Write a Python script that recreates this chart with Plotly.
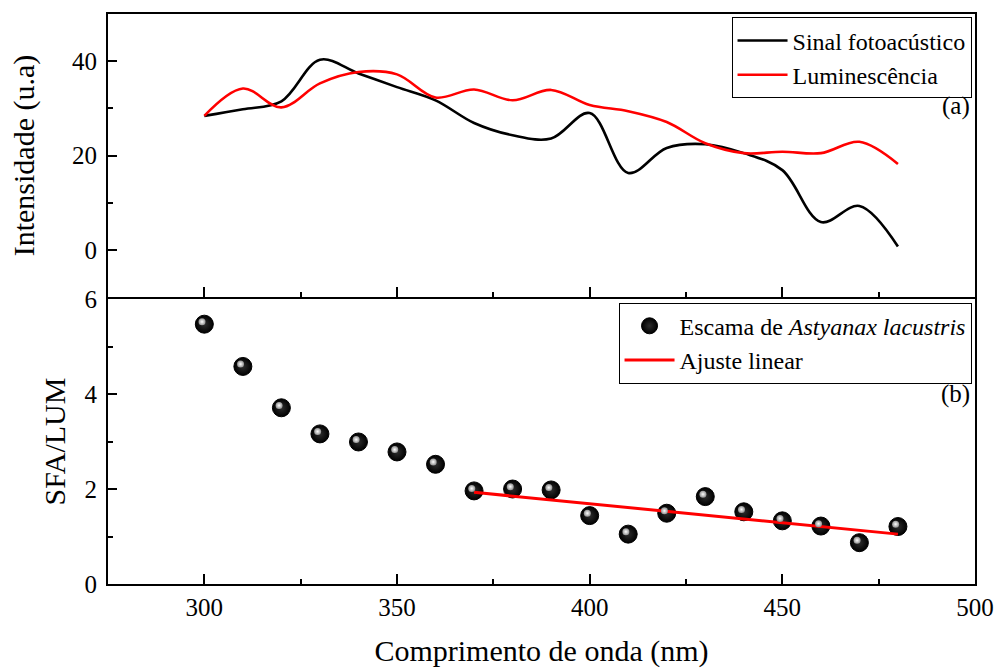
import plotly.graph_objects as go

# ---- data ----
wavelength = [300, 310, 320, 330, 340, 350, 360, 370, 380, 390,
              400, 410, 420, 430, 440, 450, 460, 470, 480]
sinal_fotoacustico = [28.4, 29.8, 31.5, 40.3, 37.4, 34.5, 31.7, 26.9, 24.3, 23.6,
                      29.0, 16.3, 21.6, 22.4, 20.5, 16.9, 5.9, 9.3, 0.7]
luminescencia = [28.4, 34.2, 30.2, 35.3, 37.7, 37.2, 32.3, 34.0, 31.7, 33.9,
                 30.7, 29.4, 27.1, 22.6, 20.5, 20.8, 20.5, 22.9, 18.2]
sfa_lum = [5.47, 4.58, 3.71, 3.16, 2.99, 2.78, 2.52, 1.96, 2.00, 1.98,
           1.44, 1.05, 1.49, 1.84, 1.52, 1.33, 1.22, 0.87, 1.21]
fit_x = [370, 480]
fit_y = [1.93, 1.05]

x_ticks = [300, 350, 400, 450, 500]
top_y_ticks = [0, 20, 40]
bottom_y_ticks = [0, 2, 4, 6]

FONT = "Liberation Serif, Times New Roman, serif"

fig = go.Figure()

fig.add_trace(go.Scatter(x=wavelength, y=sinal_fotoacustico, mode="lines",
                         line=dict(color="black", width=2.6, shape="spline", smoothing=1),
                         name="Sinal fotoacústico", xaxis="x", yaxis="y", legend="legend"))
fig.add_trace(go.Scatter(x=wavelength, y=luminescencia, mode="lines",
                         line=dict(color="#ff0000", width=2.6, shape="spline", smoothing=1),
                         name="Luminescência", xaxis="x", yaxis="y", legend="legend"))

fig.add_trace(go.Scatter(x=wavelength, y=sfa_lum, mode="markers",
                         marker=dict(color="black", size=18, symbol="circle",
                                     gradient=dict(type="radial", color="#2e2e2e"),
                                     line=dict(color="black", width=1)),
                         name="Escama de <i>Astyanax lacustris</i>",
                         xaxis="x2", yaxis="y2", legend="legend2"))
fig.add_trace(go.Scatter(x=fit_x, y=fit_y, mode="lines",
                         line=dict(color="#ff0000", width=3),
                         name="Ajuste linear", xaxis="x2", yaxis="y2", legend="legend2"))
# specular highlight on the spheres (drawn on a slightly offset overlay axis)
fig.add_trace(go.Scatter(x=wavelength, y=sfa_lum, mode="markers",
                         marker=dict(color="#909090", size=7, symbol="circle",
                                     gradient=dict(type="radial", color="#ffffff"),
                                     line=dict(width=0)),
                         showlegend=False, hoverinfo="skip",
                         xaxis="x3", yaxis="y3"))

axis_common = dict(showline=True, linecolor="black", linewidth=2, mirror=True,
                   ticks="inside", tickcolor="black", tickwidth=2,
                   showgrid=False, zeroline=False, automargin=False,
                   tickfont=dict(family=FONT, size=25, color="black"))

top_dom = [0.5035, 1.0]
bot_dom = [0.0, 0.5]
xr = [275, 500]
yr2 = [0, 6]

fig.update_layout(
    width=998, height=668,
    margin=dict(l=108, r=23, t=14, b=84),
    paper_bgcolor="white", plot_bgcolor="white",
    font=dict(family=FONT, color="black"),
    xaxis=dict(**axis_common, domain=[0, 1], anchor="y", range=xr,
               tickvals=x_ticks, showticklabels=False, ticklen=10,
               minor=dict(dtick=25, tick0=275, ticks="inside", ticklen=5,
                          tickwidth=2, tickcolor="black")),
    yaxis=dict(**axis_common, domain=top_dom, anchor="x", range=[-10, 50],
               tickvals=top_y_ticks, ticklen=9, ticklabelstandoff=4,
               minor=dict(dtick=10, tick0=0, ticks="inside", ticklen=5,
                          tickwidth=2, tickcolor="black"),
               title=dict(text="Intensidade (u.a)", standoff=28,
                          font=dict(family=FONT, size=30, color="black"))),
    xaxis2=dict(**axis_common, domain=[0, 1], anchor="y2", range=xr,
                tickvals=x_ticks, ticklen=10,
                minor=dict(dtick=25, tick0=275, ticks="inside", ticklen=5,
                           tickwidth=2, tickcolor="black"),
                title=dict(text="Comprimento de onda (nm)", standoff=24,
                           font=dict(family=FONT, size=30, color="black"))),
    yaxis2=dict(**axis_common, domain=bot_dom, anchor="x2", range=yr2,
                tickvals=bottom_y_ticks, ticklen=9, ticklabelstandoff=4,
                minor=dict(dtick=1, tick0=0, ticks="inside", ticklen=5,
                           tickwidth=2, tickcolor="black"),
                title=dict(text="SFA/LUM", standoff=10,
                           font=dict(family=FONT, size=30, color="black"))),
    xaxis3=dict(domain=[0, 1], anchor="y3", overlaying="x2", automargin=False,
                range=[xr[0] + 0.6, xr[1] + 0.6], visible=False),
    yaxis3=dict(domain=bot_dom, anchor="x3", overlaying="y2", automargin=False,
                range=[yr2[0] - 0.05, yr2[1] - 0.05], visible=False),
    legend=dict(x=0.996, y=0.994, xanchor="right", yanchor="top",
                bgcolor="white", bordercolor="black", borderwidth=1,
                font=dict(family=FONT, size=24, color="black"),
                tracegroupgap=0, itemwidth=50),
    legend2=dict(x=0.996, y=0.4935, xanchor="right", yanchor="top",
                 bgcolor="white", bordercolor="black", borderwidth=1,
                 font=dict(family=FONT, size=24, color="black"),
                 tracegroupgap=0, itemwidth=50),
    annotations=[
        dict(text="(a)", xref="paper", yref="paper", x=0.996, y=0.8386,
             xanchor="right", yanchor="middle", showarrow=False,
             font=dict(family=FONT, size=25, color="black")),
        dict(text="(b)", xref="paper", yref="paper", x=0.996, y=0.333,
             xanchor="right", yanchor="middle", showarrow=False,
             font=dict(family=FONT, size=25, color="black")),
    ],
)

fig.write_html("out.html")
